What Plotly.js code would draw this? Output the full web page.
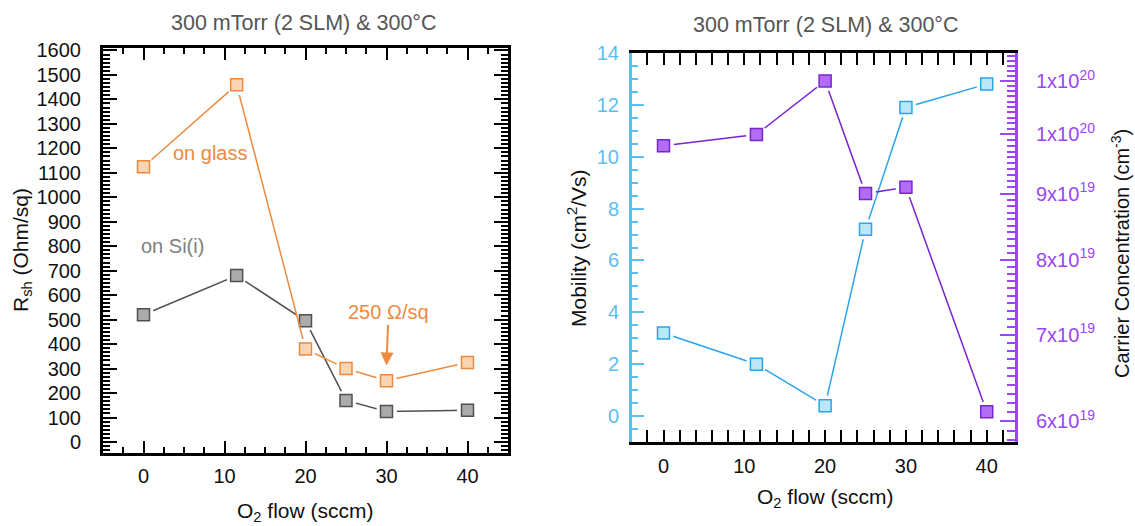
<!DOCTYPE html>
<html>
<head>
<meta charset="utf-8">
<script src="https://cdn.plot.ly/plotly-3.0.1.min.js"></script>
<style>
  html, body { margin: 0; padding: 0; background: #ffffff; }
  #chart { width: 1135px; height: 526px; }
</style>
</head>
<body>
<div id="chart"></div>
<script>
// O2 flow settings (sccm)
const flow = [0, 11.5, 20, 25, 30, 40];

// Sheet resistance (Ohm/sq)
const rshGlass = [1125, 1460, 380, 300, 250, 325];
const rshSi = [520, 680, 495, 170, 125, 130];

// Hall data on the right panel
const mobility = [3.2, 2.0, 0.4, 7.2, 11.9, 12.8];          // cm2/Vs
const carrier = [9.8e19, 1.0e20, 1.1e20, 9.0e19, 9.1e19, 6.1e19]; // cm-3

// Tick labels
const flowTicks = [0, 10, 20, 30, 40];
const carrierTickVals = [6e19, 7e19, 8e19, 9e19, 1e20, 1.1e20];
const carrierTickText = ['6x10<sup>19</sup>', '7x10<sup>19</sup>', '8x10<sup>19</sup>',
                         '9x10<sup>19</sup>', '1x10<sup>20</sup>', '1x10<sup>20</sup>'];

const FONT = 'Liberation Sans, Arial, sans-serif';
const W = 1135, H = 526;
const px = v => v / W;
const py = v => 1 - v / H;

const ORANGE = '#EC8A3D', ORANGE_FILL = '#FAD5B4';
const GREY = '#505050', GREY_FILL = '#ABABAB';
const BLUE = '#2AA4EA', BLUE_FILL = '#BDE6FB', BLUE_AXIS = '#5CBDF1';
const PURPLE = '#7A24D2', PURPLE_FILL = '#B16EF4', PURPLE_AXIS = '#9B45F5';

// one series = connecting line, white halo (leaves a gap at each point), square markers
function series(x, y, xa, ya, lineColor, fill, edge) {
  return [
    { x: x, y: y, xaxis: xa, yaxis: ya, mode: 'lines', type: 'scatter',
      line: { color: lineColor, width: 1.5 }, hoverinfo: 'skip', showlegend: false },
    { x: x, y: y, xaxis: xa, yaxis: ya, mode: 'markers', type: 'scatter',
      marker: { symbol: 'circle', size: 21, color: '#ffffff', line: { width: 0 } },
      hoverinfo: 'skip', showlegend: false },
    { x: x, y: y, xaxis: xa, yaxis: ya, mode: 'markers', type: 'scatter',
      marker: { symbol: 'square', size: 12, color: fill, line: { color: edge, width: 1.5 } },
      showlegend: false }
  ];
}

const data = [].concat(
  series(flow, rshSi, 'x', 'y', GREY, GREY_FILL, GREY),
  series(flow, rshGlass, 'x', 'y', ORANGE, ORANGE_FILL, ORANGE),
  series(flow, mobility, 'x2', 'y3', BLUE, BLUE_FILL, BLUE),
  series(flow, carrier, 'x2', 'y4', PURPLE, PURPLE_FILL, PURPLE)
);

// minor ticks on the log axis every 1e18
const carrierMinor = [];
for (let k = 57; k <= 116; k++) carrierMinor.push(k * 1e18);

const tickFont = { family: FONT, size: 20, color: '#111111' };

// centred text placed in page pixels
function label(x, y, text, size, color, angle) {
  return { xref: 'paper', yref: 'paper', x: px(x), y: py(y), xanchor: 'center', yanchor: 'middle',
           text: text, textangle: angle || 0, showarrow: false,
           font: { family: FONT, size: size, color: color } };
}

const layout = {
  width: W, height: H,
  margin: { l: 0, r: 0, t: 0, b: 0 },
  paper_bgcolor: '#ffffff', plot_bgcolor: '#ffffff',
  showlegend: false,
  font: { family: FONT, size: 20, color: '#111111' },

  // left panel
  xaxis: {
    domain: [px(103), px(508)], anchor: 'y', range: [-5, 45],
    tickmode: 'array', tickvals: flowTicks,
    showline: true, linewidth: 3, linecolor: '#000000', mirror: 'allticks',
    ticks: 'inside', ticklen: 12, tickwidth: 2, tickcolor: '#000000',
    minor: { dtick: 2.5, tick0: 0, ticks: 'inside', ticklen: 6, tickwidth: 2, tickcolor: '#000000' },
    zeroline: false, showgrid: false, tickfont: tickFont, ticklabelstandoff: 3
  },
  yaxis: {
    domain: [py(453), py(48)], anchor: 'x', range: [-45, 1610],
    dtick: 100, tick0: 0,
    showline: true, linewidth: 3, linecolor: '#000000', mirror: 'allticks',
    ticks: 'inside', ticklen: 14, tickwidth: 2, tickcolor: '#000000',
    minor: { dtick: 100 / 6, tick0: 0, ticks: 'inside', ticklen: 7, tickwidth: 2, tickcolor: '#000000' },
    zeroline: false, showgrid: false, tickfont: tickFont, ticklabelstandoff: 15
  },

  // right panel
  xaxis2: {
    domain: [px(632), px(1015)], anchor: 'y3', range: [-3.9, 43.5],
    tickmode: 'array', tickvals: flowTicks,
    showline: true, linewidth: 3, linecolor: '#000000', mirror: 'allticks',
    ticks: 'inside', ticklen: 12, tickwidth: 2, tickcolor: '#000000',
    minor: { dtick: 2, tick0: 0, ticks: 'inside', ticklen: 6, tickwidth: 2, tickcolor: '#000000' },
    zeroline: false, showgrid: false, tickfont: tickFont, ticklabelstandoff: 4
  },
  yaxis3: {
    domain: [py(442), py(53)], anchor: 'x2', range: [-1, 14],
    dtick: 2, tick0: 0,
    showline: true, linewidth: 3, linecolor: BLUE_AXIS,
    ticks: 'inside', ticklen: 12, tickwidth: 2, tickcolor: BLUE_AXIS,
    minor: { dtick: 0.5, tick0: 0, ticks: 'inside', ticklen: 6, tickwidth: 2, tickcolor: BLUE_AXIS },
    zeroline: false, showgrid: false,
    tickfont: { family: FONT, size: 20, color: BLUE_AXIS }, ticklabelstandoff: 6
  },
  yaxis4: {
    domain: [py(442), py(53)], anchor: 'x2', overlaying: 'y3', side: 'right',
    type: 'log', range: [19.762, 20.063],
    tickmode: 'array', tickvals: carrierTickVals, ticktext: carrierTickText,
    showline: true, linewidth: 3, linecolor: PURPLE_AXIS,
    ticks: 'inside', ticklen: 15, tickwidth: 2, tickcolor: PURPLE_AXIS,
    minor: { tickmode: 'array', tickvals: carrierMinor, ticks: 'inside', ticklen: 8, tickwidth: 2, tickcolor: PURPLE_AXIS },
    zeroline: false, showgrid: false,
    tickfont: { family: FONT, size: 20, color: PURPLE_AXIS }, ticklabelstandoff: 14
  },

  annotations: [
    // panel titles
    label(304, 23, '300 mTorr (2 SLM) & 300°C', 21.5, '#555555'),
    label(826, 25, '300 mTorr (2 SLM) & 300°C', 21.5, '#555555'),

    // axis titles
    label(305, 512, 'O<sub>2</sub> flow (sccm)', 21, '#111111'),
    label(22, 250, 'R<sub>sh</sub> (Ohm/sq)', 21, '#111111', -90),
    label(825, 498, 'O<sub>2</sub> flow (sccm)', 21, '#111111'),
    label(577, 248, 'Mobility (cm<sup>2</sup>/Vs)', 21, '#111111', -90),
    label(1120, 254, 'Carrier Concentration (cm<sup>-3</sup>)', 20, '#111111', -90),

    // series labels
    { xref: 'x', yref: 'y', x: 8.3, y: 1180, text: 'on glass', showarrow: false,
      xanchor: 'center', yanchor: 'middle', font: { family: FONT, size: 20, color: ORANGE } },
    { xref: 'x', yref: 'y', x: 3.6, y: 800, text: 'on Si(i)', showarrow: false,
      xanchor: 'center', yanchor: 'middle', font: { family: FONT, size: 20, color: '#808080' } },

    // lowest resistance on glass
    { xref: 'x', yref: 'y', x: flow[4], y: rshGlass[4] + 63, text: '250 Ω/sq',
      showarrow: true, ax: 2, ay: -53, arrowhead: 2, arrowsize: 1.3, arrowwidth: 2,
      arrowcolor: ORANGE, standoff: 0, startstandoff: 0,
      font: { family: FONT, size: 20, color: ORANGE } }
  ]
};

Plotly.newPlot('chart', data, layout, { displayModeBar: false, staticPlot: true });
</script>
</body>
</html>
